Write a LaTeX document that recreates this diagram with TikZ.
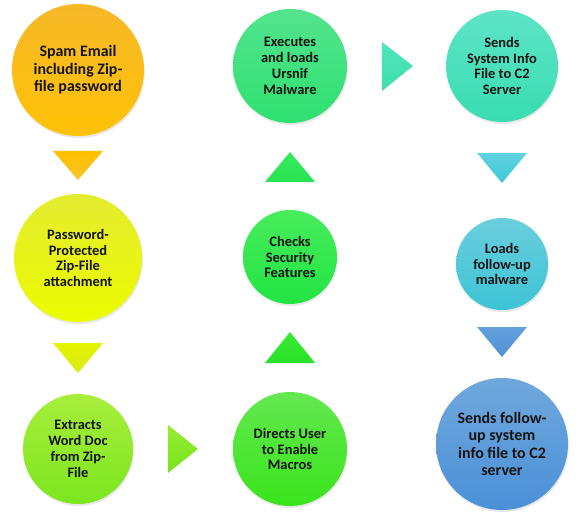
\documentclass[tikz,border=0pt]{standalone}
\usepackage{fontspec}
\setmainfont{Carlito}
\usetikzlibrary{shadows}
\definecolor{txt}{HTML}{141414}
\tikzset{
  circ/.style={circle, inner sep=0pt, align=center, text=txt,
    font=\bfseries\fontsize{14.5}{16}\selectfont,
    drop shadow={opacity=0.18, shadow xshift=0.8bp, shadow yshift=-2bp}},
  big/.style={font=\bfseries\fontsize{16}{17.5}\selectfont},
  tri/.style={draw=none},
}
\begin{document}
\begin{tikzpicture}[x=1bp,y=-1bp]
\useasboundingbox (0,0) rectangle (579,516);
% circles
\node[circ, big, minimum size=132bp, top color={rgb,255:red,246;green,184;blue,40}, bottom color={rgb,255:red,255;green,194;blue,6}] (spam) at (78,70) {Spam Email\\including Zip-\\file password};
\node[circ, minimum size=128bp, top color={rgb,255:red,228;green,236;blue,48}, bottom color={rgb,255:red,236;green,252;blue,0}] (pwd) at (78,258) {Password-\\Protected\\Zip-File\\attachment};
\node[circ, minimum size=110bp, top color={rgb,255:red,168;green,238;blue,60}, bottom color={rgb,255:red,124;green,230;blue,30}] (extr) at (78,449) {Extracts\\Word Doc\\from Zip-\\File};
\node[circ, minimum size=114bp, top color={rgb,255:red,100;green,232;blue,80}, bottom color={rgb,255:red,58;green,228;blue,28}] (dir) at (290,449) {Directs User\\to Enable\\Macros};
\node[circ, minimum size=94bp, top color={rgb,255:red,72;green,236;blue,92}, bottom color={rgb,255:red,34;green,228;blue,66}] (chk) at (290,257) {Checks\\Security\\Features};
\node[circ, minimum size=114bp, top color={rgb,255:red,84;green,228;blue,142}, bottom color={rgb,255:red,46;green,224;blue,112}] (exe) at (290,66) {Executes\\and loads\\Ursnif\\Malware};
\node[circ, minimum size=112bp, top color={rgb,255:red,94;green,228;blue,200}, bottom color={rgb,255:red,56;green,221;blue,176}] (sys) at (502,66) {Sends\\System Info\\File to C2\\Server};
\node[circ, minimum size=92bp, top color={rgb,255:red,106;green,206;blue,221}, bottom color={rgb,255:red,60;green,196;blue,214}] (load) at (502,264) {Loads\\follow-up\\malware};
\node[circ, big, minimum size=132bp, top color={rgb,255:red,112;green,168;blue,220}, bottom color={rgb,255:red,74;green,144;blue,216}] (fin) at (502,444) {Sends follow-\\up system\\info file to C2\\server};
% arrow triangles
\shade[tri, top color={rgb,255:red,255;green,192;blue,0}, bottom color={rgb,255:red,248;green,196;blue,40}] (53,151) -- (103,151) -- (78,180) -- cycle;
\shade[tri, top color={rgb,255:red,230;green,244;blue,0}, bottom color={rgb,255:red,214;green,236;blue,20}] (53,343) -- (103,343) -- (78,373) -- cycle;
\shade[tri, top color={rgb,255:red,150;green,236;blue,50}, bottom color={rgb,255:red,120;green,228;blue,30}] (168,425) -- (198,449) -- (168,473) -- cycle;
\shade[tri, top color={rgb,255:red,60;green,232;blue,50}, bottom color={rgb,255:red,40;green,226;blue,40}] (265,363) -- (290,332) -- (315,363) -- cycle;
\shade[tri, top color={rgb,255:red,56;green,232;blue,96}, bottom color={rgb,255:red,40;green,228;blue,80}] (265,182) -- (290,152) -- (315,182) -- cycle;
\shade[tri, top color={rgb,255:red,80;green,228;blue,190}, bottom color={rgb,255:red,64;green,222;blue,170}] (382,42) -- (413,66) -- (382,91) -- cycle;
\shade[tri, top color={rgb,255:red,96;green,210;blue,224}, bottom color={rgb,255:red,60;green,200;blue,216}] (477,153) -- (527,153) -- (502,183) -- cycle;
\shade[tri, top color={rgb,255:red,100;green,160;blue,220}, bottom color={rgb,255:red,78;green,146;blue,214}] (477,327) -- (527,327) -- (502,357) -- cycle;
\end{tikzpicture}
\end{document}
